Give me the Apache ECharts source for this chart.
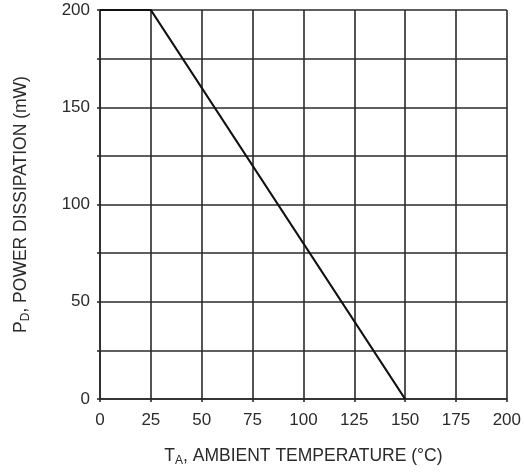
<!DOCTYPE html>
<html><head><meta charset="utf-8">
<script src="https://cdn.jsdelivr.net/npm/echarts@6/dist/echarts.min.js"></script>
<style>html,body{margin:0;padding:0;background:#fff}#c{width:524px;height:472px}</style>
</head><body><div id="c"></div>
<script>
const temperatures = [0, 25, 150];
const powerMW = [200, 200, 0];
const xTicks = [0, 25, 50, 75, 100, 125, 150, 175, 200];
const yLabels = [0, 50, 100, 150, 200];

const chart = echarts.init(document.getElementById('c'));
const font = 'Liberation Sans, Arial, sans-serif';
const txt = '#2b2b2b';
const gridCol = '#2a2a2a';
const richName = {
  n: {fontFamily: font, fontSize: 17.5, color: txt, lineHeight: 22, verticalAlign: 'middle'},
  s: {fontFamily: font, fontSize: 12, color: txt, lineHeight: 22, verticalAlign: 'bottom', padding: [9,0,0,0]}
};
chart.setOption({
  animation: false,
  grid: {left: 100, right: 14, top: 10, bottom: 70},
  xAxis: {
    type: 'value', min: 0, max: 200, interval: 25,
    axisLine: {show: true, lineStyle: {color: gridCol, width: 1.6}},
    axisTick: {show: true, length: 3, lineStyle: {color: gridCol, width: 1.6}},
    splitLine: {show: true, lineStyle: {color: gridCol, width: 1.6}},
    axisLabel: {color: txt, fontFamily: font, fontSize: 17, margin: 13,
      formatter: v => xTicks.includes(v) ? String(v) : ''},
    name: '{n|T}{s|A}{n|, AMBIENT TEMPERATURE (°C)}',
    nameLocation: 'middle', nameGap: 46,
    nameTextStyle: {color: txt, fontFamily: font, fontSize: 17.5, rich: richName}
  },
  yAxis: {
    type: 'value', min: 0, max: 200, interval: 25,
    axisLine: {show: true, lineStyle: {color: gridCol, width: 1.6}},
    axisTick: {show: true, length: 3, lineStyle: {color: gridCol, width: 1.6}},
    splitLine: {show: true, lineStyle: {color: gridCol, width: 1.6}},
    axisLabel: {color: txt, fontFamily: font, fontSize: 17, margin: 10,
      formatter: v => yLabels.includes(v) ? String(v) : ''},
    name: '{n|P}{s|D}{n|, POWER DISSIPATION (mW)}',
    nameLocation: 'middle', nameGap: 68, nameRotate: 90,
    nameTextStyle: {color: txt, fontFamily: font, fontSize: 17.5, rich: richName}
  },
  series: [{
    type: 'line', data: temperatures.map((t, i) => [t, powerMW[i]]),
    showSymbol: false, lineStyle: {color: '#111', width: 2.2}
  }]
});
</script></body></html>
